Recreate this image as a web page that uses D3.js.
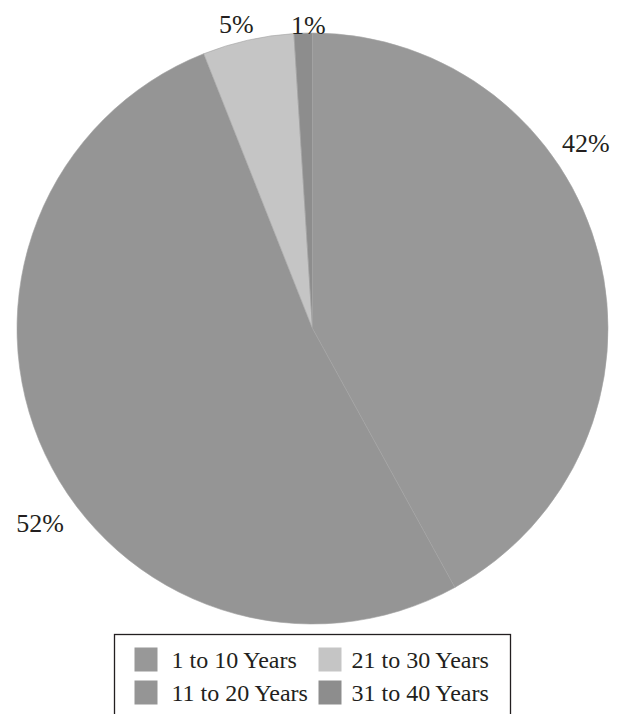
<!DOCTYPE html>
<html lang="en">
<head>
<meta charset="utf-8">
<title>Years pie</title>
<script src="https://d3js.org/d3.v7.min.js"></script>
<style>
  body { margin: 0; background: #fff; }
</style>
</head>
<body>
<div id="chart"></div>
<script>
// Data
var categories = ["1 to 10 Years", "11 to 20 Years", "21 to 30 Years", "31 to 40 Years"];
var values = [42, 52, 5, 1];
var labels = ["42%", "52%", "5%", "1%"];
var colors = ["#989898", "#959595", "#c5c5c5", "#8d8d8d"];

// Layout
var width = 621, height = 714;
var cx = 312.5, cy = 328.5, radius = 295.5;
var serif = "'Liberation Serif', 'Times New Roman', Times, 'DejaVu Serif', serif";
// where each percentage label sits (degrees clockwise from top, distance from centre)
var labelAngle = [55.9, 234.4, 345.9, 359.2];
var labelDist = [330, 335, 313, 303.5];

var svg = d3.select("#chart").append("svg")
    .attr("width", width)
    .attr("height", height)
    .attr("font-family", serif);

var pie = d3.pie().sort(null).value(d => d);
var arc = d3.arc().innerRadius(0).outerRadius(radius);

var g = svg.append("g").attr("transform", `translate(${cx},${cy})`);

g.selectAll("path")
    .data(pie(values))
    .enter()
    .append("path")
    .attr("d", arc)
    .attr("fill", (d, i) => colors[i])
    .attr("stroke", "#a2a2a2")
    .attr("stroke-width", 0.6);

g.selectAll("text.lbl")
    .data(labels)
    .enter()
    .append("text")
    .attr("class", "lbl")
    .attr("x", (d, i) => labelDist[i] * Math.sin(labelAngle[i] * Math.PI / 180))
    .attr("y", (d, i) => -labelDist[i] * Math.cos(labelAngle[i] * Math.PI / 180))
    .attr("text-anchor", "middle")
    .attr("dominant-baseline", "central")
    .attr("font-family", serif)
    .attr("font-size", 26)
    .attr("fill", "#231f20")
    .text(d => d);

// Legend
var legend = svg.append("g").attr("transform", "translate(114.5,634.5)");
legend.append("rect")
    .attr("width", 396)
    .attr("height", 100)
    .attr("fill", "#fff")
    .attr("stroke", "#231f20")
    .attr("stroke-width", 1.3);

// order: column-wise, two rows
var colX = [20, 204], rowY = [13, 46], colTextX = [37, 33];
var items = legend.selectAll("g.item")
    .data(categories)
    .enter()
    .append("g")
    .attr("class", "item")
    .attr("transform", (d, i) => `translate(${colX[Math.floor(i / 2)]},${rowY[i % 2]})`);

items.append("rect")
    .attr("width", 23)
    .attr("height", 24)
    .attr("fill", (d, i) => colors[i]);

items.append("text")
    .attr("x", (d, i) => colTextX[Math.floor(i / 2)])
    .attr("y", 20)
    .attr("font-family", serif)
    .attr("font-size", 24)
    .attr("fill", "#231f20")
    .text(d => d);
</script>
</body>
</html>
